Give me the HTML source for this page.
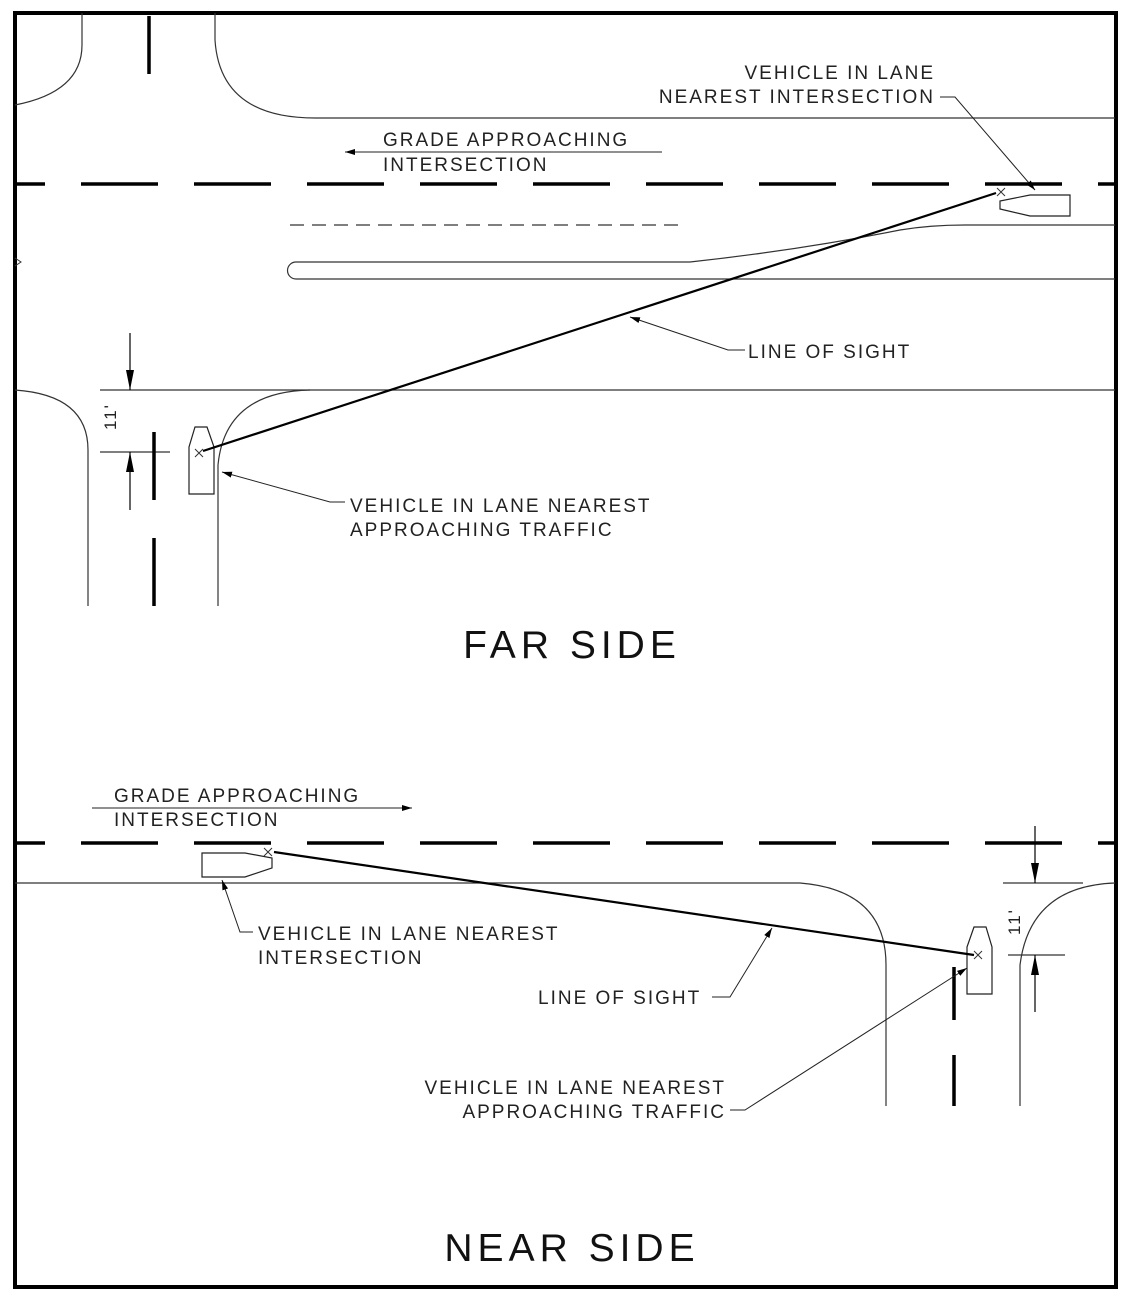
<!DOCTYPE html>
<html><head><meta charset="utf-8"><style>
html,body{margin:0;padding:0;background:#fff;}
svg{display:block;}
text{font-family:"Liberation Sans",sans-serif;fill:#222;font-size:19px;letter-spacing:2px;}
.big{font-size:39px;letter-spacing:5px;fill:#111;}
</style></head><body>
<svg width="1128" height="1298" viewBox="0 0 1128 1298" xmlns="http://www.w3.org/2000/svg">
<defs>
<marker id="ah" viewBox="0 0 10 6" refX="10" refY="3" markerWidth="10" markerHeight="6" markerUnits="userSpaceOnUse" orient="auto"><path d="M0,0L10,3L0,6z" fill="#000"/></marker>
<marker id="ab" viewBox="0 0 20 8" refX="20" refY="4" markerWidth="20" markerHeight="8" markerUnits="userSpaceOnUse" orient="auto"><path d="M0,0L20,4L0,8z" fill="#000"/></marker>
</defs>
<rect x="15" y="13" width="1101" height="1274" fill="none" stroke="#000" stroke-width="4"/>

<g fill="none" stroke="#333" stroke-width="1.2">
<path d="M82,13 V45 Q82,92 15,105"/>
<path d="M215,13 V40 Q220,118 315,118 H1115"/>
<path d="M15,390 Q88,395 88,450 V606"/>
<path d="M218,606 V465 Q225,392 310,390"/>
<line x1="100" y1="390" x2="1115" y2="390"/>
<path d="M690,262 H296 A8.5,8.5 0 0 0 296,279 H1115"/>
<path d="M690,262 Q800,250 900,230 Q930,225 965,225 H1115"/>
<path d="M15,883 H800 Q886,890 886,965 V1106"/>
<path d="M1020,1106 V965 Q1030,886 1115,883"/>
<line x1="1003" y1="883" x2="1083" y2="883"/>
<line x1="100" y1="452" x2="170" y2="452"/>
<line x1="1008" y1="955" x2="1065" y2="955"/>
</g>

<g stroke="#000" stroke-width="3.5">
<line x1="15" y1="184" x2="1115" y2="184" stroke-dasharray="77 36" stroke-dashoffset="47"/>
<line x1="15" y1="843" x2="1115" y2="843" stroke-dasharray="77 36" stroke-dashoffset="47"/>
<line x1="149" y1="16" x2="149" y2="74"/>
<line x1="154" y1="432" x2="154" y2="500"/>
<line x1="154" y1="538" x2="154" y2="606"/>
<line x1="954" y1="967" x2="954" y2="1020"/>
<line x1="954" y1="1055" x2="954" y2="1106"/>
</g>
<line x1="290" y1="225" x2="685" y2="225" stroke="#333" stroke-width="1.2" stroke-dasharray="14 8"/>
<path d="M15,258 L21,262 L15,266" fill="none" stroke="#333"/>

<g stroke="#000" stroke-width="1.2">
<line x1="130" y1="333" x2="130" y2="390" marker-end="url(#ab)"/>
<line x1="130" y1="510" x2="130" y2="452" marker-end="url(#ab)"/>
<line x1="1035" y1="826" x2="1035" y2="883" marker-end="url(#ab)"/>
<line x1="1035" y1="1012" x2="1035" y2="955" marker-end="url(#ab)"/>
</g>
<text x="0" y="0" transform="translate(116,430) rotate(-90)" style="font-size:17px">11'</text>
<text x="0" y="0" transform="translate(1020,935) rotate(-90)" style="font-size:17px">11'</text>

<g fill="#fff" stroke="#222" stroke-width="1.2">
<path d="M189,494 V447 L195,427 H207 L214,447 V494 Z"/>
<path d="M1070,195 H1030 L1000,201 V209 L1030,216 H1070 Z"/>
<path d="M202,853 H245 L272,858 V868 L245,877 H202 Z"/>
<path d="M967,994 V947 L974,927 H986 L992,947 V994 Z"/>
</g>
<g stroke="#333" stroke-width="1">
<path d="M195,449 l8,8 M203,449 l-8,8"/>
<path d="M997,188 l8,8 M1005,188 l-8,8"/>
<path d="M264,848 l8,8 M272,848 l-8,8"/>
<path d="M974,951 l8,8 M982,951 l-8,8"/>
</g>

<g stroke="#000" stroke-width="2.2">
<line x1="203" y1="451" x2="996" y2="193"/>
<line x1="274" y1="852" x2="974" y2="955"/>
</g>

<g fill="none" stroke="#222" stroke-width="1">
<path d="M745,350 H728 L630,317" marker-end="url(#ah)"/>
<path d="M940,97 H955 L1035,190" marker-end="url(#ah)"/>
<path d="M345,502 H330 L222,472" marker-end="url(#ah)"/>
<line x1="662" y1="152" x2="345" y2="152" marker-end="url(#ah)"/>
<line x1="92" y1="808" x2="412" y2="808" marker-end="url(#ah)"/>
<path d="M253,932 H240 L222,880" marker-end="url(#ah)"/>
<path d="M712,997 H730 L772,928" marker-end="url(#ah)"/>
<path d="M730,1110 H745 L967,968" marker-end="url(#ah)"/>
</g>

<text x="935" y="79" text-anchor="end">VEHICLE IN LANE</text>
<text x="935" y="103" text-anchor="end">NEAREST INTERSECTION</text>
<text x="383" y="146">GRADE APPROACHING</text>
<text x="383" y="171">INTERSECTION</text>
<text x="748" y="358">LINE OF SIGHT</text>
<text x="350" y="512">VEHICLE IN LANE NEAREST</text>
<text x="350" y="536">APPROACHING TRAFFIC</text>
<text class="big" x="572" y="658" text-anchor="middle">FAR SIDE</text>

<text x="114" y="802">GRADE APPROACHING</text>
<text x="114" y="826">INTERSECTION</text>
<text x="258" y="940">VEHICLE IN LANE NEAREST</text>
<text x="258" y="964">INTERSECTION</text>
<text x="538" y="1004">LINE OF SIGHT</text>
<text x="726" y="1094" text-anchor="end">VEHICLE IN LANE NEAREST</text>
<text x="726" y="1118" text-anchor="end">APPROACHING TRAFFIC</text>
<text class="big" x="572" y="1261" text-anchor="middle">NEAR SIDE</text>
</svg>
</body></html>
